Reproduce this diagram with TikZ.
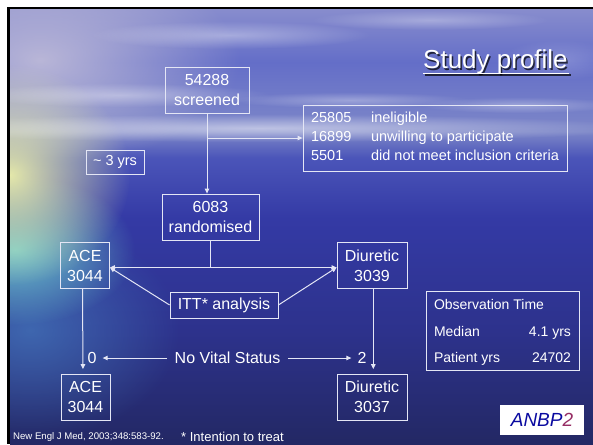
\documentclass[tikz,border=0pt]{standalone}
\usepackage{fontspec}
\setmainfont{Liberation Sans}
\usetikzlibrary{arrows.meta,fadings}

\definecolor{ln}{RGB}{228,230,245}
\definecolor{skytop}{RGB}{135,140,205}
\definecolor{skymid}{RGB}{100,110,200}
\definecolor{horizon}{RGB}{125,135,200}
\definecolor{seahi}{RGB}{75,85,185}
\definecolor{seadeep}{RGB}{52,58,165}
\definecolor{seamid}{RGB}{45,50,140}
\definecolor{seabot}{RGB}{35,40,100}
\definecolor{glowy}{RGB}{228,232,170}
\definecolor{glowc}{RGB}{110,200,205}
\definecolor{glowb}{RGB}{70,125,190}
\definecolor{haze}{RGB}{200,195,218}
\definecolor{logoblue}{RGB}{10,10,160}
\definecolor{logored}{RGB}{150,45,100}

\pgfdeclareverticalshading{sea}{100bp}{color(0bp)=(seabot); color(25bp)=(seabot);
  color(38bp)=(seamid); color(51bp)=(seadeep); color(58bp)=(seahi);
  color(61bp)=(horizon); color(69bp)=(skymid); color(75bp)=(skytop); color(100bp)=(skytop)}
\tikzfading[name=fuzzy, inner color=transparent!0, outer color=transparent!100]

\begin{document}
\begin{tikzpicture}[x=1pt,y=-1pt]

      \tikzset{box/.style={draw=ln, line width=0.8pt, text=white, align=center, inner sep=0pt, font=\fontsize{16}{20}\selectfont},
               conn/.style={draw=ln, line width=1pt},
               arr/.style={conn, -{Triangle[length=5pt,width=4.5pt]}},
               lab/.style={text=white, font=\fontsize{16}{20}\selectfont},
               cloud/.style={white, path fading=fuzzy}}
% Background
      	\useasboundingbox (0,0) rectangle (593,444);
      	\fill[white] (0,0) rectangle (593,444);
      	\fill[black] (7,7) rectangle (593,444);
      	\begin{scope}
      	\clip (10,10) rectangle (593,444);
      	\shade[shading=sea] (10,10) rectangle (593,444);
	%Lys fra venstre
      	\fill[haze, path fading=fuzzy, opacity=.85] (40,60) ellipse [x radius=200pt, y radius=105pt];
      	\fill[glowb, path fading=fuzzy, opacity=.7] (30,330) ellipse [x radius=150pt, y radius=110pt];
      	\fill[glowc, path fading=fuzzy] (15,250) ellipse [x radius=120pt, y radius=75pt];
      	\fill[glowy, path fading=fuzzy] (10,175) ellipse [x radius=120pt, y radius=110pt];
	%Skyer
      	\fill[cloud, opacity=.5] (260,128) ellipse [x radius=380pt, y radius=14pt];
      	\fill[cloud, opacity=.35] (230,35) ellipse [x radius=140pt, y radius=14pt];
      	\fill[cloud, opacity=.3] (430,20) ellipse [x radius=120pt, y radius=10pt];
      	\fill[cloud, opacity=.35] (120,95) ellipse [x radius=150pt, y radius=12pt];
      	\fill[cloud, opacity=.3] (350,100) ellipse [x radius=120pt, y radius=8pt];
      	\fill[cloud, opacity=.3] (520,105) ellipse [x radius=100pt, y radius=8pt];
      	\fill[cloud, opacity=.2] (560,60) ellipse [x radius=60pt, y radius=20pt];
      	\end{scope}

% Title
      	\node[anchor=base west, inner sep=0pt, text=black, opacity=.7, font=\fontsize{26}{30}\selectfont] at (424.5,70.1) {Study profile};
      	\fill[black, opacity=.7] (424.5,74) rectangle (570.5,75.6);
      	\node[anchor=base west, inner sep=0pt, text=white, font=\fontsize{26}{30}\selectfont] (title) at (423,68.6) {Study profile};
      	\fill[white] (423,72.5) rectangle (569,74.1);

% Boxes
      	\node[box, minimum width=84pt, minimum height=46pt] (screened) at (207,90) {54288\\screened};
      	\node[box, minimum width=264pt, minimum height=66pt, font=\fontsize{14.5}{19}\selectfont] (excl) at (435,138)
      	    {\begin{tabular}{@{}p{60pt}@{}l@{}}25805 & ineligible\\ 16899 & unwilling to participate\\ 5501 & did not meet inclusion criteria\end{tabular}};
      	\node[box, minimum width=58pt, minimum height=24pt, font=\fontsize{14.5}{18}\selectfont] (yrs) at (115,162) {\textasciitilde{} 3 yrs};
      	\node[box, minimum width=97pt, minimum height=46pt] (randomised) at (210.5,217) {6083\\randomised};
      	\node[box, minimum width=49pt, minimum height=46pt] (ace1) at (85,265.5) {ACE\\3044};
      	\node[box, minimum width=70pt, minimum height=46pt] (diu1) at (372,265.5) {Diuretic\\3039};
      	\node[box, minimum width=108pt, minimum height=26pt] (itt) at (224,305) {ITT* analysis};
      	\node[box, minimum width=49pt, minimum height=46pt] (ace2) at (85.5,397) {ACE\\3044};
      	\node[box, minimum width=70pt, minimum height=46pt] (diu2) at (372,397) {Diuretic\\3037};
      	\node[box, minimum width=153pt, minimum height=77pt, font=\fontsize{14}{26.5}\selectfont] (obs) at (502.5,331)
      	    {\begin{tabular*}{137pt}{@{}l@{\extracolsep{\fill}}r@{}}\multicolumn{2}{@{}l@{}}{Observation Time}\\ Median & 4.1 yrs\\ Patient yrs & 24702\end{tabular*}};

% Labels
      	\node[lab, inner xsep=6pt] (zero) at (92,358) {0};
      	\node[lab, inner xsep=6pt] (two) at (362,358) {2};
      	\node[lab, inner xsep=7.5pt] (nvs) at (227.5,358) {No Vital Status};
      	\node[fill=white, minimum width=84pt, minimum height=30pt, inner sep=0pt, font=\fontsize{19}{22}\selectfont\itshape] (logo) at (542,419.5)
      	    {\textcolor{logoblue}{ANBP}\textcolor{logored}{2}};
      	\node[anchor=base west, inner sep=0pt, text=white, font=\fontsize{9.6}{11}\selectfont] (ref) at (13,439) {New Engl J Med, 2003;348:583-92.};
      	\node[anchor=base west, inner sep=0pt, text=white, font=\fontsize{13}{15}\selectfont] (note) at (181,441) {* Intention to treat};

% Edges
      	\coordinate (br) at (screened.south |- excl.west);
      	\coordinate (sp) at ([yshift=-2pt]randomised.south |- ace1.east);
		\path (screened.south) edge[arr] (screened.south |- randomised.north);
		\path (br) edge[arr] (br -| excl.west);
		\path (randomised.south) edge[conn] (sp);
		\path (sp) edge[arr] (sp -| ace1.east);
		\path (sp) edge[arr] (sp -| diu1.west);
		\path (itt.west) edge[arr] (sp -| ace1.east);
		\path (itt.east) edge[arr] (sp -| diu1.west);
		\path ([xshift=-2.5pt]ace1.south) edge[arr, shorten >=4.5pt] ([xshift=-2.5pt]ace2.north);
		\path ([xshift=1.3pt]diu1.south) edge[arr, shorten >=4.5pt] ([xshift=1.3pt]diu2.north);
		\path (nvs.west) edge[arr] (zero.east);
		\path (nvs.east) edge[arr] (two.west);

	\end{tikzpicture}
\end{document}
